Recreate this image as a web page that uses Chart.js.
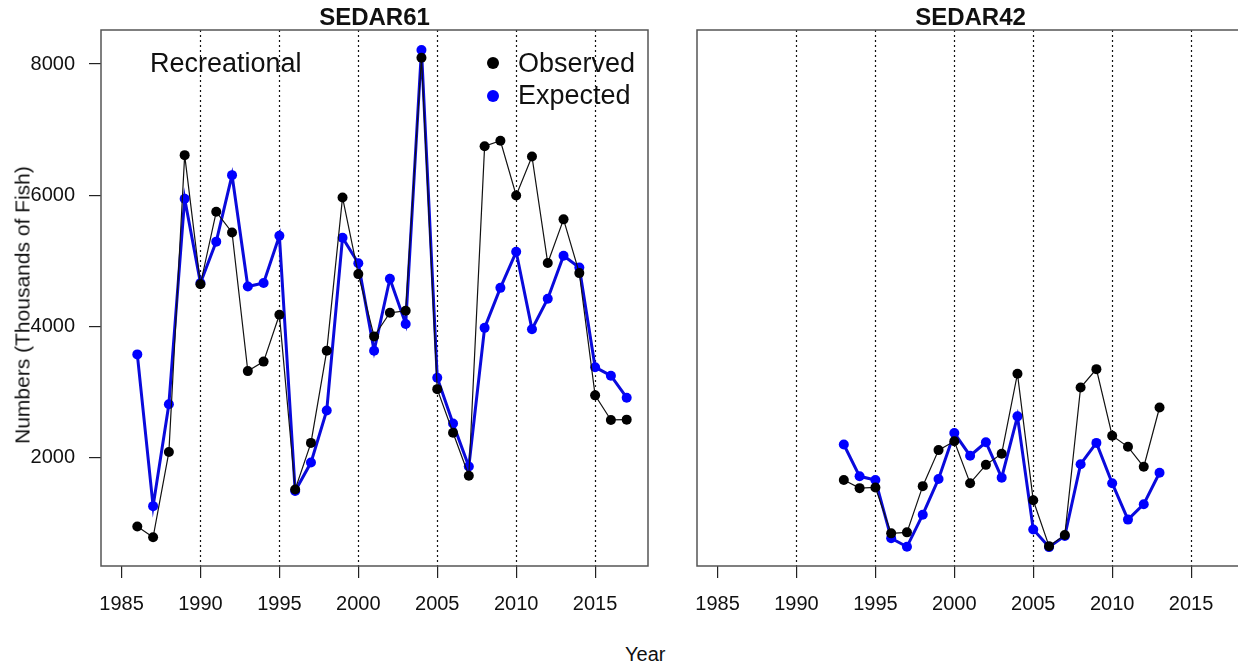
<!DOCTYPE html>
<html>
<head>
<meta charset="utf-8">
<script src="https://cdn.jsdelivr.net/npm/chart.js@4"></script>
<style>
  html, body { margin: 0; padding: 0; background: #fff; overflow: hidden; width: 1238px; height: 667px; }
  body { position: relative; font-family: "Liberation Sans", Arial, sans-serif; color: #111; }
  canvas { position: absolute; top: 0; }
  #left { left: 0; }
  #right { left: 660px; }
  .txt { position: absolute; white-space: nowrap; line-height: 1; }
  .title { font-weight: bold; font-size: 24px; transform: translateX(-50%); top: 5px; }
  .dot { position: absolute; width: 12px; height: 12px; border-radius: 50%; }
</style>
</head>
<body>
<canvas id="left" width="660" height="640"></canvas>
<canvas id="right" width="600" height="640"></canvas>

<div class="txt title" style="left:374.5px;">SEDAR61</div>
<div class="txt title" style="left:970.5px;">SEDAR42</div>
<div class="txt" style="left:150px; top:50px; font-size:27px;">Recreational</div>
<div class="dot" style="left:487px; top:57px; background:#000;"></div>
<div class="txt" style="left:518px; top:50px; font-size:27px;">Observed</div>
<div class="dot" style="left:487px; top:90px; background:#0000ff;"></div>
<div class="txt" style="left:518px; top:82px; font-size:27px;">Expected</div>
<div class="txt" style="left:625px; top:644px; font-size:20px;">Year</div>
<div class="txt" style="left:22px; top:305px; font-size:21px; transform: translate(-50%, -50%) rotate(-90deg);">Numbers (Thousands of Fish)</div>

<script>
// SEDAR61 recreational, 1986-2017
const yearsRec = [1986, 1987, 1988, 1989, 1990, 1991, 1992, 1993, 1994, 1995, 1996,
  1997, 1998, 1999, 2000, 2001, 2002, 2003, 2004, 2005, 2006, 2007, 2008, 2009,
  2010, 2011, 2012, 2013, 2014, 2015, 2016, 2017];
const obsRec = [945, 780, 2080, 6610, 4640, 5745, 5430, 3315, 3460, 4175, 1510,
  2220, 3625, 5965, 4795, 3845, 4205, 4235, 8095, 3040, 2375, 1720, 6745, 6830,
  5995, 6590, 4965, 5630, 4810, 2945, 2570, 2575];
const expRec = [3570, 1255, 2810, 5945, 4660, 5290, 6305, 4605, 4660, 5380, 1485,
  1920, 2715, 5350, 4960, 3625, 4725, 4035, 8215, 3215, 2515, 1860, 3975, 4585,
  5135, 3955, 4420, 5075, 4895, 3375, 3245, 2910];

// SEDAR42, 1993-2013
const yearsS42 = [1993, 1994, 1995, 1996, 1997, 1998, 1999, 2000, 2001, 2002, 2003,
  2004, 2005, 2006, 2007, 2008, 2009, 2010, 2011, 2012, 2013];
const obsS42 = [1655, 1530, 1540, 840, 855, 1560, 2110, 2245, 1605, 1885, 2055,
  3275, 1345, 645, 815, 3065, 3345, 2330, 2160, 1855, 2760];
const expS42 = [2195, 1710, 1655, 765, 635, 1125, 1670, 2370, 2025, 2230, 1690,
  2625, 900, 630, 800, 1895, 2220, 1605, 1050, 1285, 1765];

const xTicks = [1985, 1990, 1995, 2000, 2005, 2010, 2015];
const refYears = [1990, 1995, 2000, 2005, 2010, 2015];
const yTicks = [2000, 4000, 6000, 8000];

const FONT = '"Liberation Sans", Arial, sans-serif';

// dotted year lines + frame around the plot region
const framePlugin = {
  id: 'frame',
  beforeDatasetsDraw(chart) {
    const { ctx, chartArea: a, scales: { x } } = chart;
    ctx.save();
    ctx.strokeStyle = '#111';
    ctx.lineWidth = 1.2;
    ctx.setLineDash([2, 3]);
    refYears.forEach(v => {
      const px = Math.round(x.getPixelForValue(v)) + 0.5;
      ctx.beginPath();
      ctx.moveTo(px, a.top);
      ctx.lineTo(px, a.bottom);
      ctx.stroke();
    });
    ctx.restore();
  },
  afterDraw(chart) {
    const { ctx, chartArea: a } = chart;
    ctx.save();
    ctx.strokeStyle = '#555';
    ctx.lineWidth = 1.5;
    ctx.strokeRect(a.left, a.top, a.right - a.left, a.bottom - a.top);
    ctx.restore();
  }
};

function pts(years, vals) {
  return years.map((yr, i) => ({ x: yr, y: vals[i] }));
}

function makeChart(id, years, obs, exp, showY, padding) {
  return new Chart(document.getElementById(id), {
    type: 'line',
    data: {
      datasets: [
        {
          label: 'Observed',
          data: pts(years, obs),
          borderColor: '#111',
          borderWidth: 1.2,
          pointRadius: 5,
          pointHoverRadius: 5,
          pointBorderWidth: 0,
          pointBackgroundColor: '#000',
          tension: 0
        },
        {
          label: 'Expected',
          data: pts(years, exp),
          borderColor: '#0a0adc',
          borderWidth: 3,
          pointRadius: 5,
          pointHoverRadius: 5,
          pointBorderWidth: 0,
          pointBackgroundColor: '#0000ff',
          tension: 0
        }
      ]
    },
    options: {
      responsive: false,
      animation: false,
      layout: { padding },
      plugins: { legend: { display: false }, tooltip: { enabled: false } },
      scales: {
        x: {
          type: 'linear',
          min: 1983.7,
          max: 2018.35,
          afterBuildTicks: s => { s.ticks = xTicks.map(v => ({ value: v })); },
          afterFit: s => { s.height = 60; },
          ticks: {
            callback: v => String(v),
            font: { size: 20, family: FONT },
            color: '#111',
            padding: 14,
            maxRotation: 0,
            autoSkip: false
          },
          grid: { drawOnChartArea: false, drawTicks: true, tickLength: 12, color: '#222', lineWidth: 1.2 },
          border: { display: false }
        },
        y: {
          display: showY,
          min: 342,
          max: 8519,
          afterBuildTicks: s => { s.ticks = yTicks.map(v => ({ value: v })); },
          afterFit: s => { s.width = showY ? 101 : 0; },
          ticks: {
            callback: v => String(v),
            font: { size: 20, family: FONT },
            color: '#111',
            padding: 14
          },
          grid: { drawOnChartArea: false, drawTicks: true, tickLength: 12, color: '#222', lineWidth: 1.2 },
          border: { display: false }
        }
      }
    },
    plugins: [framePlugin]
  });
}

makeChart('left', yearsRec, obsRec, expRec, true, { left: 0, top: 30, right: 12, bottom: 14 });
makeChart('right', yearsS42, obsS42, expS42, false, { left: 37, top: 30, right: 16, bottom: 14 });
</script>
</body>
</html>
